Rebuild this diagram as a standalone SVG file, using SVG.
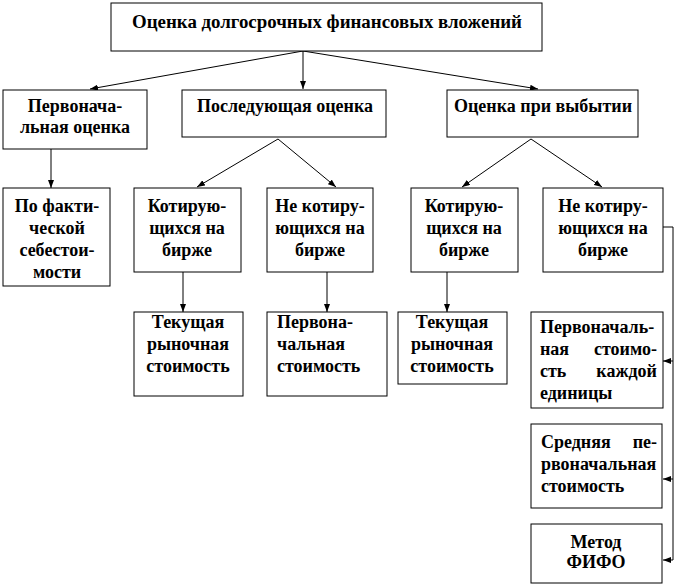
<svg xmlns="http://www.w3.org/2000/svg" width="676" height="586" viewBox="0 0 676 586">
<defs>
<marker id="ah" markerWidth="8" markerHeight="6" refX="8" refY="3" orient="auto" markerUnits="userSpaceOnUse">
<path d="M0,0 L8,3 L0,6 z" fill="#000"/>
</marker>
<style>
.b{fill:#fff;stroke:#000;stroke-width:1}
.t{font-family:"Liberation Serif","Times New Roman",serif;font-weight:bold;font-size:18px;fill:#000}
.c{text-anchor:middle}
.e{text-anchor:end}
.l{fill:none;stroke:#000;stroke-width:1}
.a{fill:none;stroke:#000;stroke-width:1;marker-end:url(#ah)}
</style>
</defs>
<rect width="676" height="586" fill="#fff"/>
<g id="connectors">
<line class="a" x1="303" y1="51" x2="90" y2="89"/>
<line class="a" x1="303" y1="51" x2="303" y2="89"/>
<line class="a" x1="303" y1="51" x2="538" y2="89"/>
<line class="a" x1="51" y1="149" x2="51" y2="188"/>
<line class="a" x1="278" y1="139" x2="197" y2="187"/>
<line class="a" x1="278" y1="139" x2="336" y2="187"/>
<line class="a" x1="531" y1="139" x2="462" y2="187"/>
<line class="a" x1="531" y1="139" x2="602" y2="187"/>
<line class="a" x1="183" y1="272" x2="183" y2="312"/>
<line class="a" x1="327" y1="272" x2="327" y2="312"/>
<line class="a" x1="447" y1="272" x2="447" y2="312"/>
<polyline class="l" points="663,227 673,227 673,560"/>
<line class="a" x1="673" y1="361" x2="663" y2="361"/>
<line class="a" x1="673" y1="479" x2="663" y2="479"/>
<line class="a" x1="673" y1="560" x2="663" y2="560"/>
</g>
<g id="n-root">
<rect class="b" x="111" y="3" width="431" height="48"/>
<text class="t c" x="327" y="28" textLength="390" lengthAdjust="spacingAndGlyphs">Оценка долгосрочных финансовых вложений</text>
</g>
<g id="n-initial">
<rect class="b" x="3" y="90" width="144" height="59"/>
<text class="t c" x="75" y="112">Первонача-</text>
<text class="t c" x="75" y="133">льная оценка</text>
</g>
<g id="n-subsequent">
<rect class="b" x="182" y="90" width="204" height="47"/>
<text class="t c" x="285" y="112">Последующая оценка</text>
</g>
<g id="n-disposal">
<rect class="b" x="447" y="90" width="191" height="47"/>
<text class="t c" x="543" y="112">Оценка при выбытии</text>
</g>
<g id="n-actual">
<rect class="b" x="3" y="188" width="107" height="98"/>
<text class="t c" x="57" y="212">По факти-</text>
<text class="t c" x="57" y="234">ческой</text>
<text class="t c" x="57" y="256">себестои-</text>
<text class="t c" x="57" y="278">мости</text>
</g>
<g id="n-quoted1">
<rect class="b" x="134" y="188" width="107" height="84"/>
<text class="t c" x="187" y="212">Котирую-</text>
<text class="t c" x="187" y="234">щихся на</text>
<text class="t c" x="187" y="256">бирже</text>
</g>
<g id="n-unquoted1">
<rect class="b" x="267" y="188" width="106" height="84"/>
<text class="t c" x="320" y="212">Не котиру-</text>
<text class="t c" x="320" y="234">ющихся на</text>
<text class="t c" x="320" y="256">бирже</text>
</g>
<g id="n-quoted2">
<rect class="b" x="411" y="188" width="107" height="84"/>
<text class="t c" x="464" y="212">Котирую-</text>
<text class="t c" x="464" y="234">щихся на</text>
<text class="t c" x="464" y="256">бирже</text>
</g>
<g id="n-unquoted2">
<rect class="b" x="543" y="188" width="120" height="84"/>
<text class="t c" x="603" y="212">Не котиру-</text>
<text class="t c" x="603" y="234">ющихся на</text>
<text class="t c" x="603" y="256">бирже</text>
</g>
<g id="n-market1">
<rect class="b" x="134" y="312" width="109" height="84"/>
<text class="t c" x="188" y="328">Текущая</text>
<text class="t c" x="188" y="350">рыночная</text>
<text class="t c" x="188" y="372">стоимость</text>
</g>
<g id="n-original">
<rect class="b" x="267" y="312" width="120" height="84"/>
<text class="t" x="277" y="328">Первона-</text>
<text class="t" x="277" y="350">чальная</text>
<text class="t" x="277" y="372">стоимость</text>
</g>
<g id="n-market2">
<rect class="b" x="398" y="312" width="109" height="72"/>
<text class="t c" x="452" y="328">Текущая</text>
<text class="t c" x="452" y="350">рыночная</text>
<text class="t c" x="452" y="372">стоимость</text>
</g>
<g id="n-each">
<rect class="b" x="531" y="312" width="132" height="96"/>
<text class="t" x="540" y="333">Первоначаль-</text>
<text class="t" x="540" y="355">ная</text>
<text class="t e" x="657" y="355">стоимо-</text>
<text class="t" x="540" y="377">сть</text>
<text class="t e" x="657" y="377">каждой</text>
<text class="t" x="540" y="399">единицы</text>
</g>
<g id="n-average">
<rect class="b" x="531" y="424" width="131" height="84"/>
<text class="t" x="541" y="448">Средняя</text>
<text class="t e" x="657" y="448">пе-</text>
<text class="t" x="541" y="470">рвоначальная</text>
<text class="t" x="541" y="492">стоимость</text>
</g>
<g id="n-fifo">
<rect class="b" x="531" y="524" width="131" height="59"/>
<text class="t c" x="596" y="548">Метод</text>
<text class="t c" x="596" y="568">ФИФО</text>
</g>
</svg>
